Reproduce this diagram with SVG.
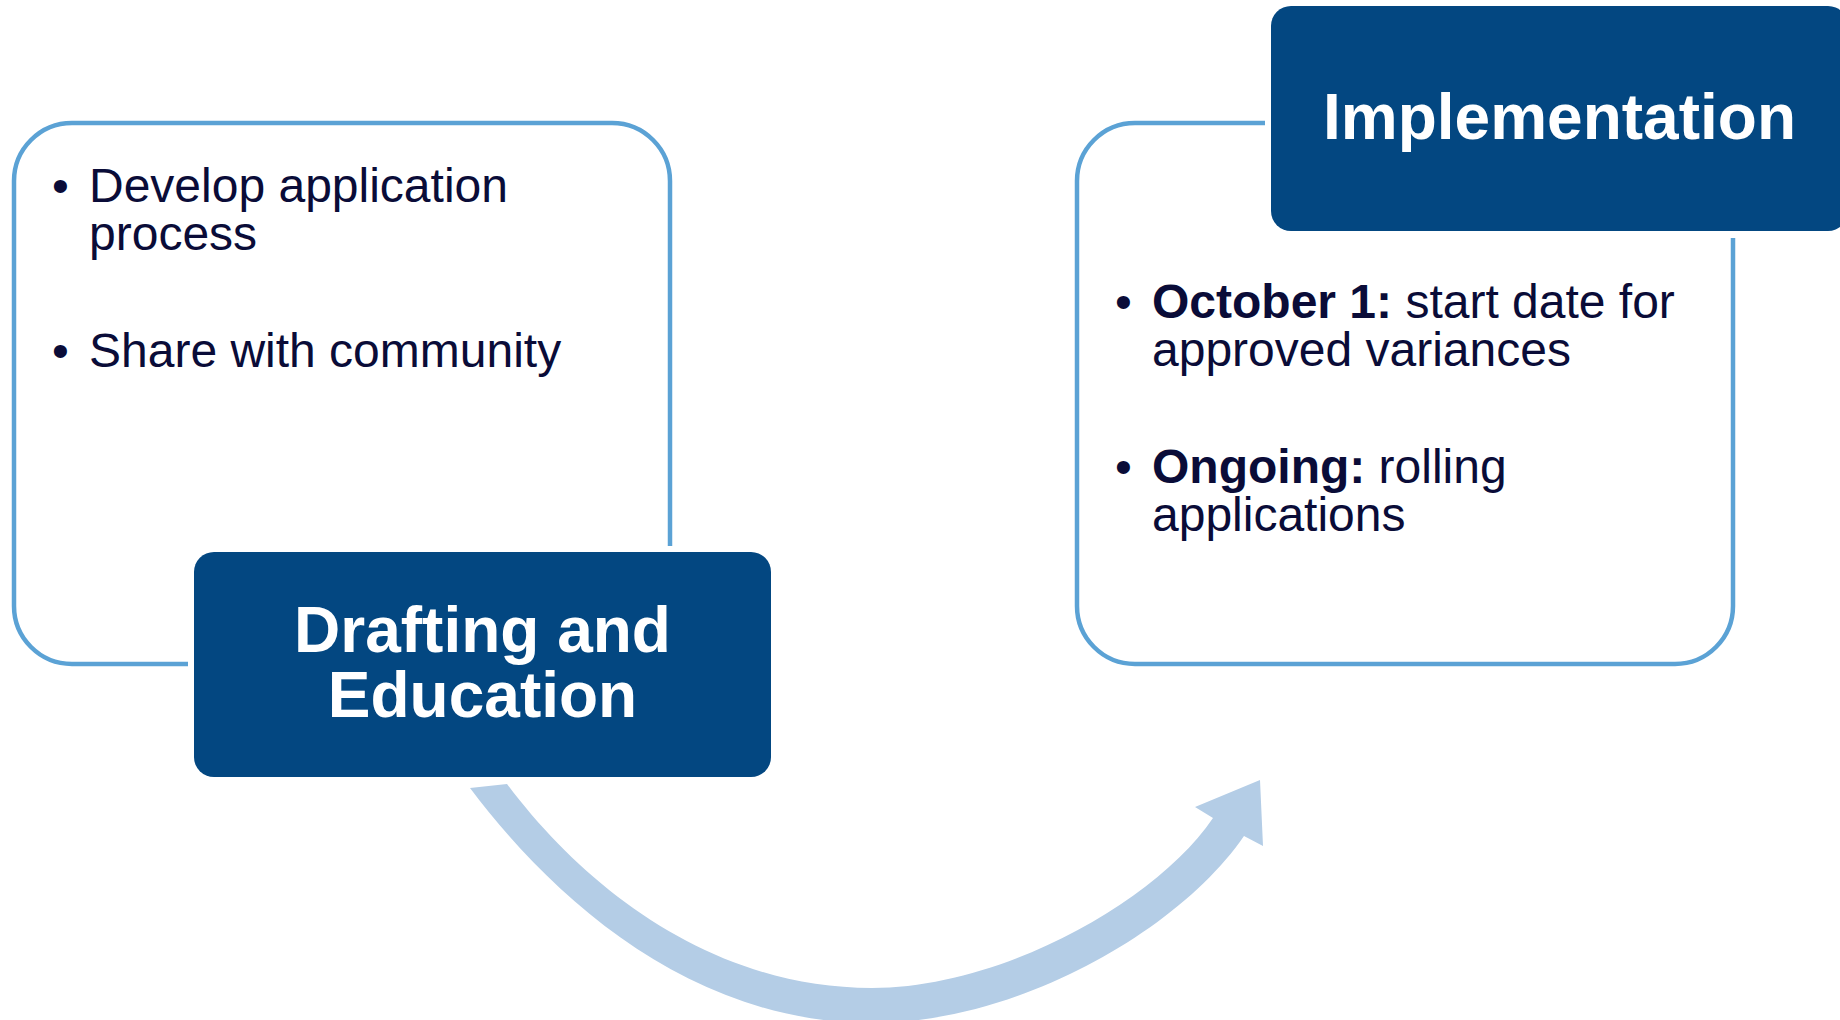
<svg xmlns="http://www.w3.org/2000/svg" width="1840" height="1020" viewBox="0 0 1840 1020">
<style>
.outline{fill:none;stroke:#5BA2D5;stroke-width:4.5}
.hdr{fill:#034781}
.hdrtxt{font-family:"Liberation Sans",Arial,sans-serif;font-weight:bold;font-size:64px;fill:#FFFFFF;text-anchor:middle}
.body{font-family:"Liberation Sans",Arial,sans-serif;font-size:48px;fill:#0A0C38}
.b{font-weight:bold}
.arrow{fill:#B4CDE6}
</style>
<rect width="1840" height="1020" fill="#FFFFFF"/>
<g id="connectors">
<path class="arrow" d="M470,788 C554,900 692,1023 872,1023 C1017,1023 1179,931 1244,836 L1263,846 L1260,780 L1195,807 L1213,818 C1157,901 1002,988 872,988 C712,988 585,888 507,784 Z"/>
</g>
<g id="drafting-box">
<path class="outline" d="M188,664 L72,664 A58,58 0 0 1 14,606 L14,181 A58,58 0 0 1 72,123 L612,123 A58,58 0 0 1 670,181 L670,546"/>
<text class="body" x="52" y="202">•</text>
<text class="body" x="89" y="202">Develop application</text>
<text class="body" x="89" y="250">process</text>
<text class="body" x="52" y="367">•</text>
<text class="body" x="89" y="367">Share with community</text>
</g>
<g id="drafting">
<rect class="hdr" x="194" y="552" width="577" height="225" rx="20"/>
<text class="hdrtxt" x="482.5" y="652">Drafting and</text>
<text class="hdrtxt" x="482.5" y="717">Education</text>
</g>
<g id="implementation-box">
<path class="outline" d="M1265,123 L1135,123 A58,58 0 0 0 1077,181 L1077,606 A58,58 0 0 0 1135,664 L1675,664 A58,58 0 0 0 1733,606 L1733,238"/>
<text class="body" x="1115" y="318">•</text>
<text class="body" x="1152" y="318"><tspan class="b">October 1:</tspan> start date for</text>
<text class="body" x="1152" y="366">approved variances</text>
<text class="body" x="1115" y="483">•</text>
<text class="body" x="1152" y="483"><tspan class="b">Ongoing:</tspan> rolling</text>
<text class="body" x="1152" y="531">applications</text>
</g>
<g id="implementation">
<rect class="hdr" x="1271" y="6" width="577" height="225" rx="20"/>
<text class="hdrtxt" x="1559.5" y="139">Implementation</text>
</g>
</svg>
